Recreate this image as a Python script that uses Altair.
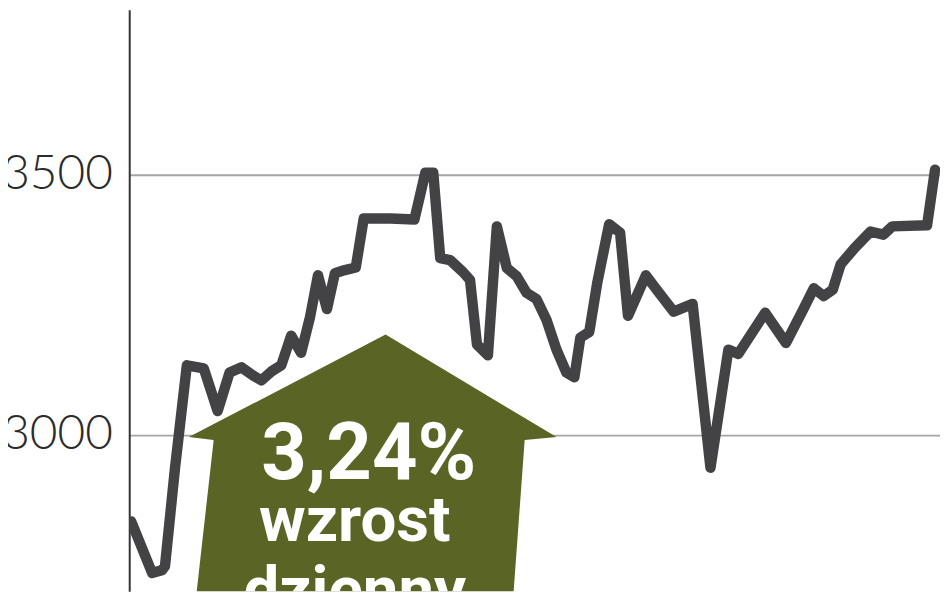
import altair as alt
import pandas as pd

# --- WIG-type index, daily sessions ---
sesja = [0, 2.1, 3.1, 3.4, 4.4, 5.6, 7.3, 8.7, 9.9, 11.1, 12.3, 13.1, 14.1, 15.1,
         16.1, 17.1, 18.0, 18.8, 19.7, 20.5, 21.5, 22.6, 23.4, 26.1, 28.5, 29.6,
         30.4, 31.1, 32.1, 33.4, 34.1, 34.8, 35.9, 36.8, 37.8, 38.8, 39.8, 40.8,
         41.8, 42.8, 43.8, 44.6, 45.2, 46.1, 46.9, 48.1, 49.2, 50.0, 51.8, 52.9,
         54.6, 56.5, 58.3, 60.1, 61.1, 63.8, 65.9, 67.6, 68.7, 69.7, 70.6, 71.4,
         72.8, 74.4, 75.7, 76.6, 80.1, 80.9]
wig = [2834, 2735, 2740, 2748, 2935, 3134, 3128, 3046, 3120, 3130, 3114, 3105,
       3122, 3134, 3191, 3158, 3227, 3307, 3242, 3311, 3317, 3322, 3416, 3416,
       3414, 3504, 3504, 3340, 3336, 3313, 3298, 3174, 3153, 3401, 3321, 3305,
       3273, 3261, 3221, 3164, 3120, 3111, 3187, 3198, 3292, 3405, 3389, 3229,
       3307, 3279, 3237, 3252, 2937, 3164, 3156, 3235, 3177, 3240, 3282, 3267,
       3279, 3328, 3359, 3391, 3385, 3401, 3403, 3510]

# y-axis tick values
y_ticks = [3000, 3500]

# arrow annotation outline (index level, left/right session edges)
strzalka_poziom = [3193, 2996, 2990.5, 2650]
strzalka_lewa = [25.6, 5.8, 8.3, 6.3]
strzalka_prawa = [25.6, 42.8, 39.6, 38.3]

# annotation text
napis = ["3,24%", "wzrost", "dzienny"]
napis_x = [23.9, 22.5, 22.5]
napis_y = [2916, 2796, 2662]

df = pd.DataFrame({"sesja": sesja, "wig": wig})
df_arrow = pd.DataFrame({"poziom": strzalka_poziom, "lewa": strzalka_lewa,
                         "prawa": strzalka_prawa})

xscale = alt.Scale(domain=[-0.2, 81.4], nice=False, zero=False)
yscale = alt.Scale(domain=[2700, 3817], nice=False, zero=False)

line = alt.Chart(df).mark_line(
    color="#434345", strokeWidth=10.5, strokeCap="round", strokeJoin="round", clip=True
).encode(
    x=alt.X("sesja:Q", scale=xscale, axis=None),
    y=alt.Y("wig:Q", scale=yscale,
            axis=alt.Axis(values=y_ticks, grid=True, gridColor="#a5a5a5", gridWidth=2,
                          domainColor="#333333", domainWidth=2, ticks=False,
                          labelFont="Lato", labelFontWeight=300, labelFontSize=48,
                          labelColor="#2a2a2a", labelPadding=17, title=None,
                          format="d")),
)

arrow = alt.Chart(df_arrow).mark_area(
    orient="horizontal", color="#5a6424", opacity=1, clip=True
).encode(
    y=alt.Y("poziom:Q", scale=yscale),
    x=alt.X("lewa:Q", scale=xscale),
    x2="prawa:Q",
)

font = "Roboto"
sizes = [80, 64, 64]
texts = []
for lab, tx, ty, fs in zip(napis, napis_x, napis_y, sizes):
    d = pd.DataFrame({"t": [lab], "x": [tx], "y": [ty]})
    texts.append(
        alt.Chart(d).mark_text(
            font=font, fontWeight="bold", fontSize=fs, color="#ffffff",
            align="center", baseline="alphabetic", clip=True
        ).encode(
            x=alt.X("x:Q", scale=xscale),
            y=alt.Y("y:Q", scale=yscale),
            text="t:N",
        )
    )

chart = alt.layer(line, arrow, *texts).properties(
    width=816, height=585,
    autosize=alt.AutoSizeParams(type="none"),
    padding={"left": 122, "top": 0, "right": 0, "bottom": 0},
    background="#ffffff",
).configure_view(stroke=None)

chart.save("out.html", embed_options={"renderer": "svg", "actions": False})
